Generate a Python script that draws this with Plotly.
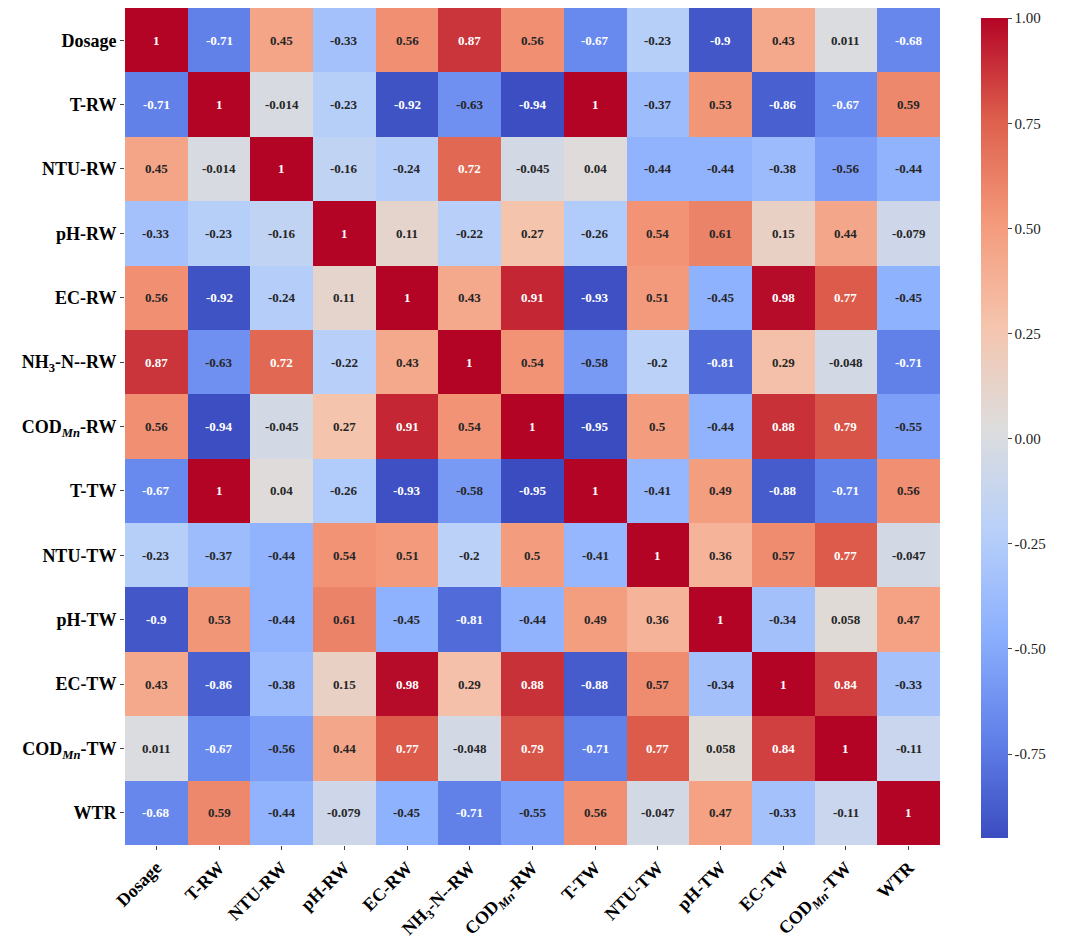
import plotly.graph_objects as go

labels = ["Dosage", "T-RW", "NTU-RW", "pH-RW", "EC-RW", "NH<sub>3</sub>-N--RW",
          "COD<sub><i>Mn</i></sub>-RW", "T-TW", "NTU-TW", "pH-TW", "EC-TW",
          "COD<sub><i>Mn</i></sub>-TW", "WTR"]

corr = [
    [1, -0.71, 0.45, -0.33, 0.56, 0.87, 0.56, -0.67, -0.23, -0.9, 0.43, 0.011, -0.68],
    [-0.71, 1, -0.014, -0.23, -0.92, -0.63, -0.94, 1, -0.37, 0.53, -0.86, -0.67, 0.59],
    [0.45, -0.014, 1, -0.16, -0.24, 0.72, -0.045, 0.04, -0.44, -0.44, -0.38, -0.56, -0.44],
    [-0.33, -0.23, -0.16, 1, 0.11, -0.22, 0.27, -0.26, 0.54, 0.61, 0.15, 0.44, -0.079],
    [0.56, -0.92, -0.24, 0.11, 1, 0.43, 0.91, -0.93, 0.51, -0.45, 0.98, 0.77, -0.45],
    [0.87, -0.63, 0.72, -0.22, 0.43, 1, 0.54, -0.58, -0.2, -0.81, 0.29, -0.048, -0.71],
    [0.56, -0.94, -0.045, 0.27, 0.91, 0.54, 1, -0.95, 0.5, -0.44, 0.88, 0.79, -0.55],
    [-0.67, 1, 0.04, -0.26, -0.93, -0.58, -0.95, 1, -0.41, 0.49, -0.88, -0.71, 0.56],
    [-0.23, -0.37, -0.44, 0.54, 0.51, -0.2, 0.5, -0.41, 1, 0.36, 0.57, 0.77, -0.047],
    [-0.9, 0.53, -0.44, 0.61, -0.45, -0.81, -0.44, 0.49, 0.36, 1, -0.34, 0.058, 0.47],
    [0.43, -0.86, -0.38, 0.15, 0.98, 0.29, 0.88, -0.88, 0.57, -0.34, 1, 0.84, -0.33],
    [0.011, -0.67, -0.56, 0.44, 0.77, -0.048, 0.79, -0.71, 0.77, 0.058, 0.84, 1, -0.11],
    [-0.68, 0.59, -0.44, -0.079, -0.45, -0.71, -0.55, 0.56, -0.047, 0.47, -0.33, -0.11, 1],
]

coolwarm = [
    [0.0, "rgb(59,76,192)"], [0.125, "rgb(98,130,234)"], [0.25, "rgb(141,176,254)"],
    [0.375, "rgb(184,208,249)"], [0.5, "rgb(221,221,221)"], [0.625, "rgb(245,196,173)"],
    [0.75, "rgb(244,154,123)"], [0.875, "rgb(222,96,77)"], [1.0, "rgb(180,4,38)"],
]
ZMIN, ZMAX = -0.95, 1.0
FONT = "Liberation Serif, Times New Roman, serif"

fig = go.Figure(go.Heatmap(
    z=corr, x=list(range(13)), y=list(range(13)),
    colorscale=coolwarm, zmin=ZMIN, zmax=ZMAX, xgap=0, ygap=0,
    colorbar=dict(x=1.038, xanchor="left", y=0.498, yanchor="middle", len=0.98, ypad=0,
                  thickness=27,
                  tickvals=[1.0, 0.75, 0.5, 0.25, 0.0, -0.25, -0.5, -0.75],
                  ticktext=["1.00", "0.75", "0.50", "0.25", "0.00", "-0.25", "-0.50", "-0.75"],
                  ticks="outside", ticklen=4, outlinewidth=0,
                  tickfont=dict(family=FONT, size=15, color="#222")),
))

annotations = []
for i, row in enumerate(corr):
    for j, v in enumerate(row):
        t = (v - ZMIN) / (ZMAX - ZMIN)
        col = "white" if (t < 0.15 or t > 0.8) else "#262626"
        annotations.append(dict(x=j, y=i, text=f"<b>{v:g}</b>", showarrow=False,
                                font=dict(family=FONT, size=13, color=col)))

fig.update_layout(
    width=1080, height=952, margin=dict(l=117, r=148, t=0, b=115),
    paper_bgcolor="white", plot_bgcolor="white",
    annotations=annotations,
    font=dict(family=FONT, color="black"),
    xaxis=dict(tickvals=list(range(13)), ticktext=[f"<b>{l}</b>" for l in labels],
               tickangle=-45, ticks="outside", ticklen=4, showgrid=False, zeroline=False,
               tickfont=dict(family=FONT, size=18)),
    yaxis=dict(tickvals=list(range(13)), ticktext=[f"<b>{l}</b>" for l in labels],
               autorange="reversed", ticks="outside", ticklen=4, showgrid=False, zeroline=False,
               tickfont=dict(family=FONT, size=18)),
)

fig.write_html("out.html")
